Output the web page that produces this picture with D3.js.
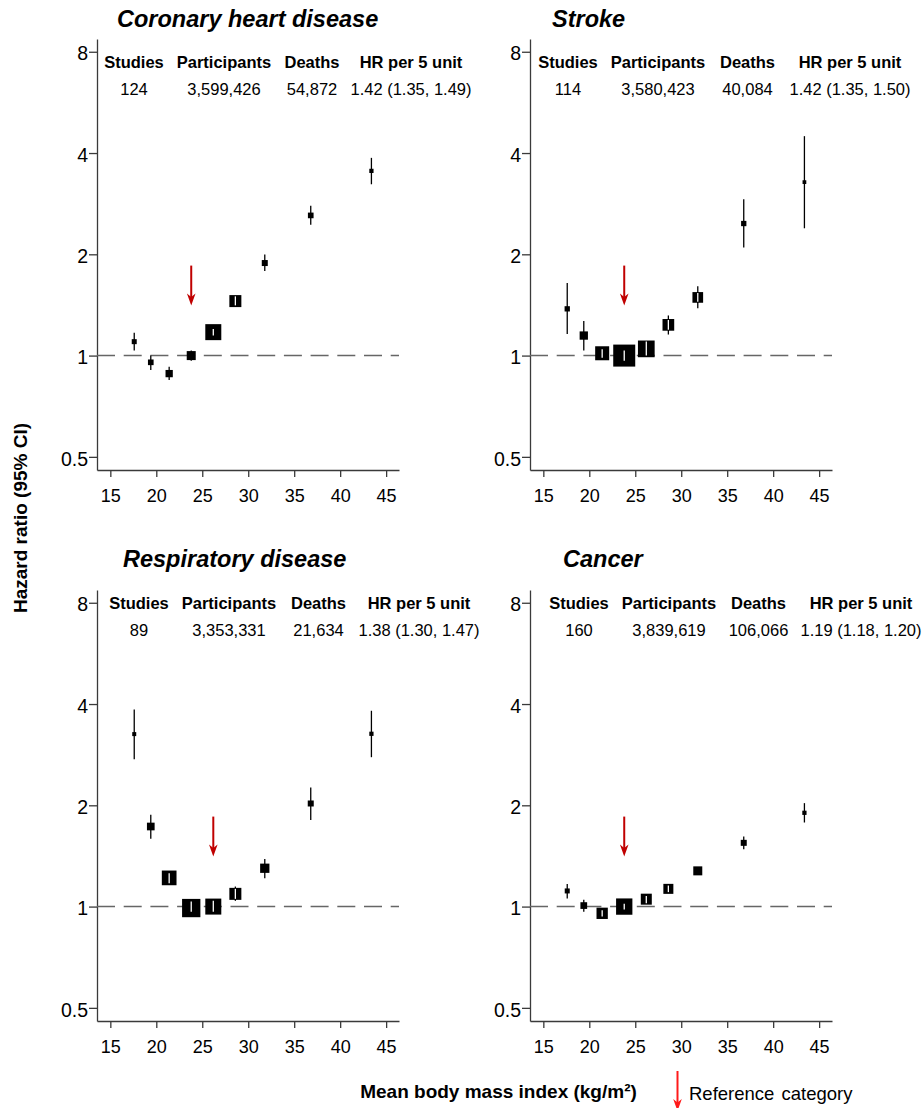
<!DOCTYPE html>
<html>
<head>
<meta charset="utf-8">
<script src="https://cdn.jsdelivr.net/npm/d3@7"></script>
<style>
  html, body { margin: 0; padding: 0; background: #fff; }
  svg { display: block; font-family: "Liberation Sans", Arial, sans-serif; }
</style>
</head>
<body>
<svg id="chart" width="923" height="1108"></svg>
<script>
// ---------------- DATA ----------------
const bmiCategories = [17.6, 19.4, 21.4, 23.8, 26.2, 28.6, 31.8, 36.8, 43.4];

const panelTitles = ["Coronary heart disease", "Stroke", "Respiratory disease", "Cancer"];
const headerLabels = ["Studies", "Participants", "Deaths", "HR per 5 unit"];
const studies = ["124", "114", "89", "160"];
const participants = ["3,599,426", "3,580,423", "3,353,331", "3,839,619"];
const deaths = ["54,872", "40,084", "21,634", "106,066"];
const hrPer5 = ["1.42 (1.35, 1.49)", "1.42 (1.35, 1.50)", "1.38 (1.30, 1.47)", "1.19 (1.18, 1.20)"];

// hazard ratios, 95% CI and relative weights (box area) per BMI category
const chdHR     = [1.10, 0.955, 0.884, 1.00, 1.174, 1.452, 1.884, 2.61, 3.54];
const chdLo     = [1.035, 0.906, 0.846, 0.965, 1.147, 1.41, 1.783, 2.45, 3.23];
const chdHi     = [1.169, 1.00, 0.927, 1.035, 1.20, 1.50, 1.996, 2.79, 3.87];
const chdWeight = [25, 32, 53, 81, 256, 144, 36, 32, 18];

const strokeHR     = [1.377, 1.147, 1.016, 1.00, 1.047, 1.234, 1.489, 2.469, 3.278];
const strokeLo     = [1.160, 1.035, 0.985, 0.966, 1.00, 1.155, 1.383, 2.094, 2.39];
const strokeHi     = [1.643, 1.266, 1.045, 1.035, 1.103, 1.316, 1.606, 2.917, 4.49];
const strokeWeight = [28, 69, 196, 484, 279, 137, 114, 28, 14];

const respHR     = [3.256, 1.730, 1.217, 0.99, 1.00, 1.091, 1.300, 2.025, 3.263];
const respLo     = [2.74, 1.590, 1.174, 0.966, 0.966, 1.04, 1.214, 1.81, 2.78];
const respHi     = [3.85, 1.874, 1.257, 1.035, 1.04, 1.147, 1.386, 2.26, 3.82];
const respWeight = [16, 59, 216, 335, 256, 144, 86, 36, 18];

const cancerHR     = [1.113, 1.007, 0.955, 1.00, 1.052, 1.129, 1.277, 1.547, 1.900];
const cancerLo     = [1.056, 0.966, 0.935, 0.98, 1.023, 1.104, 1.262, 1.481, 1.778];
const cancerHi     = [1.168, 1.047, 0.975, 1.02, 1.076, 1.155, 1.292, 1.615, 2.03];
const cancerWeight = [25, 45, 128, 266, 121, 100, 81, 36, 18];

// index of the reference category in each panel
const referenceIndex = [3, 3, 4, 3];

const xTickValues = [15, 20, 25, 30, 35, 40, 45];
const yTickValues = [0.5, 1, 2, 4, 8];

const xAxisTitle = "Mean body mass index (kg/m\u00B2)";
const yAxisTitle = "Hazard ratio (95% CI)";
const legendLabel = "Reference category";

// ---------------- LAYOUT ----------------
const layout = {
  panels: [
    { x: 97,  y: 39,  titleDx: 20, titleDy: -12, headDy: 29, valDy: 55.5, cols: [37, 127, 215, 314] },
    { x: 530, y: 39,  titleDx: 22, titleDy: -12, headDy: 29, valDy: 55.5, cols: [38, 128, 217.5, 320] },
    { x: 97,  y: 590, titleDx: 26, titleDy: -23, headDy: 19, valDy: 46,   cols: [42, 132, 221.5, 322] },
    { x: 530, y: 590, titleDx: 33, titleDy: -23, headDy: 19, valDy: 46,   cols: [49, 139, 228.5, 331] }
  ],
  w: 302, h: 431
};

const series = [
  { hr: chdHR, lo: chdLo, hi: chdHi, wt: chdWeight },
  { hr: strokeHR, lo: strokeLo, hi: strokeHi, wt: strokeWeight },
  { hr: respHR, lo: respLo, hi: respHi, wt: respWeight },
  { hr: cancerHR, lo: cancerLo, hi: cancerHi, wt: cancerWeight }
];

const svg = d3.select("#chart");
const x = d3.scaleLinear().domain([13.55, 46.4]).range([0, layout.w]);
const y = d3.scaleLog().base(2).domain([0.457, 8.73]).range([layout.h, 0]);
const size = d3.scaleSqrt().domain([0, 484]).range([0, 22]);

const axisColor = "#3a3a3a";
const arrowDark = "#c00000";

layout.panels.forEach((p, i) => {
  const g = svg.append("g").attr("transform", `translate(${p.x},${p.y})`);
  const s = series[i];

  // title
  g.append("text")
    .attr("x", p.titleDx).attr("y", p.titleDy)
    .attr("font-size", 23.5).attr("font-weight", "bold").attr("font-style", "italic")
    .attr("fill", "#000")
    .text(panelTitles[i]);

  // y axis
  const ya = g.append("g")
    .call(d3.axisLeft(y).tickValues(yTickValues).tickFormat(d3.format("")).tickSize(8).tickSizeOuter(0).tickPadding(1));
  // x axis
  const xa = g.append("g").attr("transform", `translate(0,${layout.h})`)
    .call(d3.axisBottom(x).tickValues(xTickValues).tickSize(7).tickSizeOuter(0).tickPadding(12));
  [ya, xa].forEach(a => {
    a.select(".domain").attr("stroke", axisColor).attr("stroke-width", 1.3);
    a.selectAll(".tick line").attr("stroke", axisColor).attr("stroke-width", 1.3);
    a.selectAll(".tick text").attr("fill", "#000")
      .attr("font-family", "Liberation Sans, Arial, sans-serif");
  });
  xa.selectAll(".tick text").attr("font-size", 18);
  ya.selectAll(".tick text").attr("font-size", 19.5).attr("dy", "0.42em");

  // reference line at HR = 1
  g.append("line")
    .attr("x1", 0).attr("x2", layout.w)
    .attr("y1", y(1)).attr("y2", y(1))
    .attr("stroke", "#666").attr("stroke-width", 1.5)
    .attr("stroke-dasharray", "18,8.7");

  // header table
  const headerVals = [studies[i], participants[i], deaths[i], hrPer5[i]];
  headerLabels.forEach((lab, c) => {
    g.append("text").attr("x", p.cols[c]).attr("y", p.headDy)
      .attr("text-anchor", "middle").attr("font-size", 16.5).attr("font-weight", "bold")
      .text(lab);
    g.append("text").attr("x", p.cols[c]).attr("y", p.valDy)
      .attr("text-anchor", "middle").attr("font-size", 16.5)
      .text(headerVals[c]);
  });

  const pts = bmiCategories.map((b, k) => ({ bmi: b, hr: s.hr[k], lo: s.lo[k], hi: s.hi[k], wt: s.wt[k] }));

  // CI lines
  g.selectAll("line.ci").data(pts).enter().append("line")
    .attr("class", "ci")
    .attr("x1", d => x(d.bmi)).attr("x2", d => x(d.bmi))
    .attr("y1", d => y(d.lo)).attr("y2", d => y(d.hi))
    .attr("stroke", "#000").attr("stroke-width", 1.3);

  // boxes
  g.selectAll("rect.box").data(pts).enter().append("rect")
    .attr("class", "box")
    .attr("x", d => x(d.bmi) - size(d.wt) / 2)
    .attr("y", d => y(d.hr) - size(d.wt) / 2)
    .attr("width", d => size(d.wt)).attr("height", d => size(d.wt))
    .attr("fill", "#000");

  // CI drawn in white where it lies inside a large box
  g.selectAll("line.ciw").data(pts.filter(d => size(d.wt) >= 10)).enter().append("line")
    .attr("class", "ciw")
    .attr("x1", d => x(d.bmi)).attr("x2", d => x(d.bmi))
    .attr("y1", d => Math.max(y(d.hi), y(d.hr) - size(d.wt) / 2 + 1))
    .attr("y2", d => Math.min(y(d.lo), y(d.hr) + size(d.wt) / 2 - 1))
    .attr("stroke", "#fff").attr("stroke-width", 1.3);

  // reference category arrow
  const rx = x(bmiCategories[referenceIndex[i]]);
  const tip = y(1) - 50, top = y(1) - 90;
  g.append("line").attr("x1", rx).attr("x2", rx).attr("y1", top).attr("y2", tip - 8)
    .attr("stroke", arrowDark).attr("stroke-width", 2);
  g.append("path")
    .attr("d", `M${rx - 4.3},${tip - 12} L${rx},${tip - 8.5} L${rx + 4.3},${tip - 12} L${rx},${tip} Z`)
    .attr("fill", arrowDark);
});

// axis titles
svg.append("text")
  .attr("transform", "translate(26.5,518) rotate(-90)")
  .attr("text-anchor", "middle").attr("font-size", 19).attr("font-weight", "bold")
  .text(yAxisTitle);

svg.append("text")
  .attr("x", 498.5).attr("y", 1098)
  .attr("text-anchor", "middle").attr("font-size", 19).attr("font-weight", "bold")
  .text(xAxisTitle);

// legend
const lx = 677.5, ltop = 1071, ltip = 1111;
svg.append("line").attr("x1", lx).attr("x2", lx).attr("y1", ltop).attr("y2", ltip - 8)
  .attr("stroke", "#ff1a1a").attr("stroke-width", 2);
svg.append("path")
  .attr("d", `M${lx - 4.3},${ltip - 12} L${lx},${ltip - 8.5} L${lx + 4.3},${ltip - 12} L${lx},${ltip} Z`)
  .attr("fill", "#ff1a1a");
svg.append("text")
  .attr("x", 689).attr("y", 1100)
  .attr("font-size", 18.5).attr("word-spacing", 2)
  .text(legendLabel);
</script>
</body>
</html>
